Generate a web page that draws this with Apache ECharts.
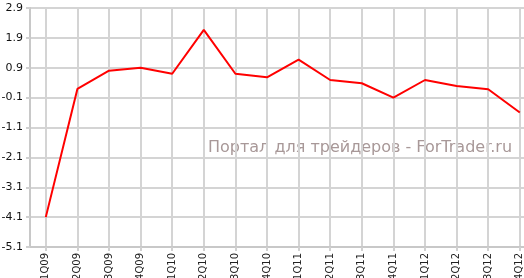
<!DOCTYPE html>
<html>
<head>
<meta charset="utf-8">
<script src="https://cdn.jsdelivr.net/npm/echarts@6/dist/echarts.min.js"></script>
<style>html,body{margin:0;padding:0;background:#fff}#c{width:524px;height:278px}</style>
</head>
<body>
<div id="c"></div>
<script>
var categories = ['1Q09','2Q09','3Q09','4Q09','1Q10','2Q10','3Q10','4Q10','1Q11','2Q11','3Q11','4Q11','1Q12','2Q12','3Q12','4Q12'];
var values = [-4.1, 0.19, 0.80, 0.90, 0.70, 2.17, 0.70, 0.58, 1.17, 0.49, 0.38, -0.10, 0.49, 0.29, 0.18, -0.60];
var yMin = -5.1, yMax = 2.9, yStep = 1;
var watermark = 'Портал для трейдеров - ForTrader.ru';

var chart = echarts.init(document.getElementById('c'), null, {renderer: 'canvas'});
chart.setOption({
  animation: false,
  backgroundColor: '#fff',
  grid: {left: 30, top: 8, right: -11.6, bottom: 31, containLabel: false, outerBoundsMode: 'none'},
  xAxis: {
    type: 'category',
    data: categories,
    boundaryGap: true,
    axisLine: {show: true, onZero: false, lineStyle: {color: '#c8c8c8', width: 2}},
    axisTick: {show: true, alignWithLabel: true, length: 4, lineStyle: {color: '#d0d0d0', width: 2}},
    splitLine: {show: true, alignWithLabel: true, lineStyle: {color: '#d4d4d4', width: 2}},
    axisLabel: {rotate: 90, margin: 6, fontFamily: 'DejaVu Sans', fontSize: 10, color: '#222', interval: 0}
  },
  yAxis: {
    type: 'value',
    min: yMin, max: yMax, interval: yStep,
    axisLine: {show: true, lineStyle: {color: '#c8c8c8', width: 2}},
    axisTick: {show: true, length: 4, lineStyle: {color: '#d0d0d0', width: 2}},
    splitLine: {show: true, lineStyle: {color: '#d4d4d4', width: 2}},
    axisLabel: {margin: 7, fontFamily: 'DejaVu Sans', fontSize: 11, color: '#111',
      formatter: function (v) { return v.toFixed(1); }}
  },
  graphic: [{
    type: 'text', left: 208, top: 140, z: 0,
    style: {text: watermark, fontFamily: 'DejaVu Sans', fontSize: 16, fill: '#a89898'}
  }],
  series: [{
    type: 'line',
    data: values,
    showSymbol: false,
    symbol: 'none',
    lineStyle: {color: '#ff0000', width: 2},
    z: 3
  }]
});
</script>
</body>
</html>
